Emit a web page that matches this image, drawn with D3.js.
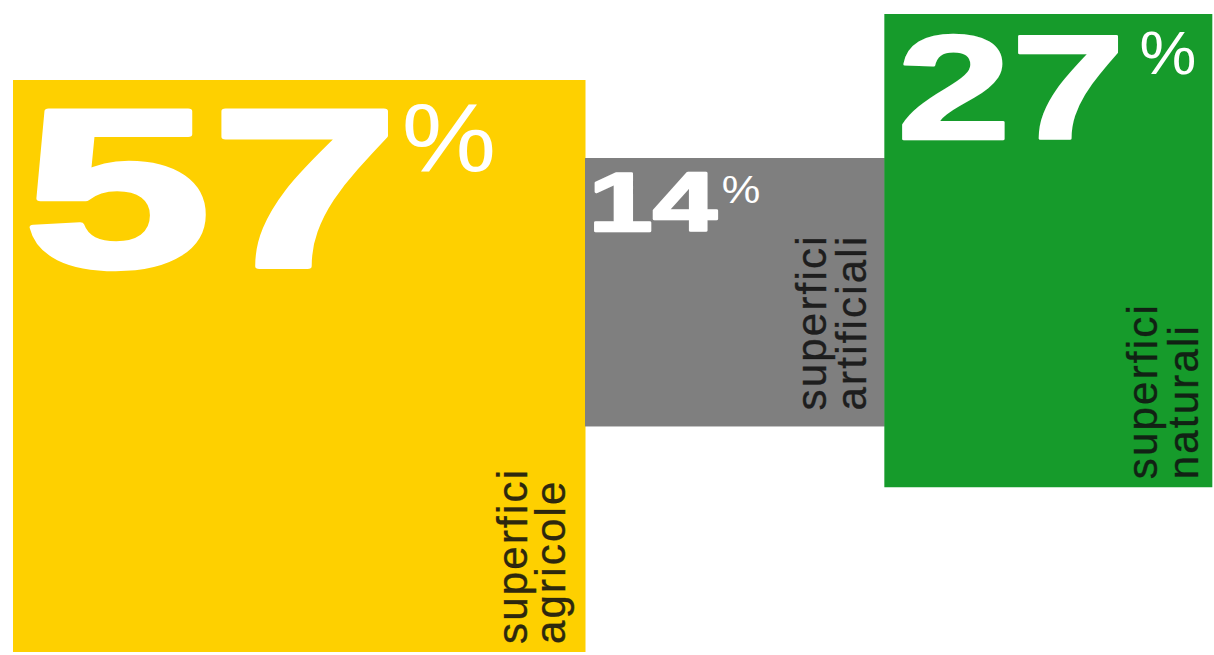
<!DOCTYPE html>
<html>
<head>
<meta charset="utf-8">
<script src="https://cdn.jsdelivr.net/npm/d3@7"></script>
<style>
  html, body { margin: 0; padding: 0; background: #ffffff; }
  svg { display: block; }
</style>
</head>
<body>
<svg id="chart" width="1214" height="655"></svg>
<script>
// ---- data ----
const categories = ["superfici agricole", "superfici artificiali", "superfici naturali"];
const values = [57, 14, 27];
const labelLine1 = ["superfici", "superfici", "superfici"];
const labelLine2 = ["agricole", "artificiali", "naturali"];
const colors = ["#FED000", "#7F7F7F", "#169B2B"];

// ---- layout (not data) ----
const maxSide = 572;          // side of the largest block
const left0 = 13;
const aspect = [1, 1.115, 0.692];   // width / height of each block
const tops = [80, 158, 14];
// number ink box relative to block: dx, dy, height, width
const numBox = [[17, 25, 167, 360], [9, 14, 60, 125], [17, 19, 107, 218]];
// percent ink box: gap after number, dy relative to number top, height, width
const pctBox = [[15, -2, 69, 88], [4, 3, 28, 36], [22, -1, 43, 53]];
// vertical label: baseline offsets from block right, bottom offset
const labelPos = [[-58, -20, -8], [-58, -18, -16], [-55, -14, -8]];

const svg = d3.select("#chart");

const area = d3.scaleLinear().domain([0, d3.max(values)]).range([0, maxSide * maxSide]);

const blocks = [];
let x = left0;
values.forEach((v, i) => {
  const a = area(v);
  const w = Math.sqrt(a * aspect[i]);
  const h = Math.sqrt(a / aspect[i]);
  blocks.push({ i, v, x, y: tops[i], w, h, color: colors[i] });
  x += w;
});

svg.selectAll("rect.block")
  .data(blocks)
  .join("rect")
  .attr("class", "block")
  .attr("x", d => d.x)
  .attr("y", d => d.y)
  .attr("width", d => d.w + 0.5)
  .attr("height", d => d.h)
  .attr("fill", d => d.color);

const ctx = document.createElement("canvas").getContext("2d");
function fitText(g, str, family, weight, box, fill, sw) {
  ctx.font = `${weight} 100px '${family}'`;
  const m = ctx.measureText(str);
  const inkW = m.actualBoundingBoxLeft + m.actualBoundingBoxRight;
  const inkH = m.actualBoundingBoxAscent + m.actualBoundingBoxDescent;
  const sx = (box.w - sw) / inkW, sy = (box.h - sw) / inkH;
  g.append("text")
    .attr("transform", `translate(${box.x + sw / 2 + m.actualBoundingBoxLeft * sx},${box.y + sw / 2 + m.actualBoundingBoxAscent * sy}) scale(${sx},${sy})`)
    .attr("font-family", family)
    .attr("font-weight", weight)
    .attr("font-size", 100)
    .attr("fill", fill)
    .attr("stroke", sw ? fill : "none")
    .attr("stroke-width", sw)
    .attr("vector-effect", "non-scaling-stroke")
    .attr("stroke-linejoin", "round")
    .text(str);
}

const labels = svg.append("g");
blocks.forEach(b => {
  const nb = numBox[b.i], pb = pctBox[b.i];
  const nx = b.x + nb[0], ny = b.y + nb[1];
  fitText(labels, String(b.v), "Liberation Sans", 700,
    { x: nx, y: ny, w: nb[3], h: nb[2] }, "#ffffff", b.i === 0 ? 7 : 3);
  fitText(labels, "%", "Liberation Sans", 400,
    { x: nx + nb[3] + pb[0], y: ny + pb[1], w: pb[3], h: pb[2] }, "#ffffff", 0);

  const lp = labelPos[b.i];
  const bottom = b.y + b.h + lp[2];
  const right = b.x + b.w;
  [[labelLine1[b.i], lp[0]], [labelLine2[b.i], lp[1]]].forEach(([t, off]) => {
    labels.append("text")
      .attr("transform", `translate(${right + off},${bottom}) rotate(-90)`)
      .attr("font-family", "Liberation Sans")
      .attr("font-size", 42)
      .attr("letter-spacing", 2.2)
      .attr("fill", "#111111")
      .attr("fill-opacity", 0.88)
      .attr("stroke", "#111111")
      .attr("stroke-opacity", 0.6)
      .attr("stroke-width", 0.6)
      .text(t);
  });
});
</script>
</body>
</html>
